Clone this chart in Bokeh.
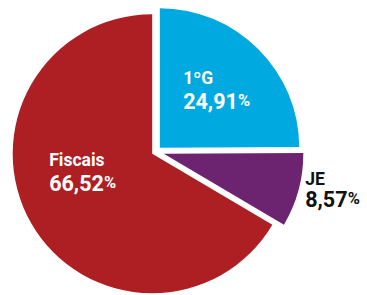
import numpy as np
from bokeh.plotting import figure
from bokeh.models import ColumnDataSource
from bokeh.core.properties import value
from bokeh.embed import file_html
from bokeh.resources import INLINE

# ---- data ----
categories = ["1ºG", "JE", "Fiscais"]
shares = [24.91, 8.57, 66.52]
value_labels = ["24,91", "8,57", "66,52"]

# ---- styles ----
colors = ["#00A9E0", "#6C2370", "#AE1F24"]
text_colors = ["white", "#111111", "white"]
explode = [(7.6, 6.0), (11.6, 0.0), (0.0, 0.0)]   # px shift per slice
W, H = 367, 295
CX, CY, R = 151.7, 141.7, 139.5
FONT = "Roboto"
name_size, num_size, pct_size = 17.5, 21.5, 16.5
TEXT_SHIFT = 5
# label anchors relative to the pie centre (left x, name baseline, number baseline)
label_pos = [(31, 71, 48), (153, -30, -50), (-103, -11, -34)]

# ---- geometry from data ----
shares_a = np.array(shares)
cum = np.concatenate([[0], np.cumsum(shares_a)[:-1]])
end_ang = np.deg2rad(90 - cum * 3.6)
start_ang = np.deg2rad(90 - (cum + shares_a) * 3.6)

src = ColumnDataSource(dict(
    x=[CX + e[0] for e in explode],
    y=[CY + e[1] for e in explode],
    start=start_ang, end=end_ang, color=colors,
))

p = figure(width=W, height=H, x_range=(0, W), y_range=(0, H),
           output_backend="svg", toolbar_location=None, min_border=0)
p.axis.visible = False
p.grid.visible = False
p.outline_line_color = None
p.background_fill_color = "white"
p.border_fill_color = "white"

p.wedge(x="x", y="y", radius=R, start_angle="start", end_angle="end",
        fill_color="color", line_color=None, source=src)

lx = [CX + lp[0] for lp in label_pos]
ny = [CY + lp[1] + TEXT_SHIFT for lp in label_pos]
vy = [CY + lp[2] + TEXT_SHIFT for lp in label_pos]

def num_width(s, size):
    w = 0.0
    for ch in s:
        w += 0.25 if ch == "," else 0.562
    return w * size

px = [x + num_width(s, num_size) + 1 for x, s in zip(lx, value_labels)]

p.text(x=lx, y=ny, text=categories, text_color=text_colors,
       text_font=value(FONT), text_font_style="bold",
       text_font_size=f"{name_size}px", text_baseline="alphabetic")
p.text(x=lx, y=vy, text=value_labels, text_color=text_colors,
       text_font=value(FONT), text_font_style="bold",
       text_font_size=f"{num_size}px", text_baseline="alphabetic")
p.text(x=px, y=vy, text=["%"] * 3, text_color=text_colors,
       text_font=value(FONT), text_font_style="bold",
       text_font_size=f"{pct_size}px", text_baseline="alphabetic")

open("out.html", "w").write(file_html(p, INLINE))
